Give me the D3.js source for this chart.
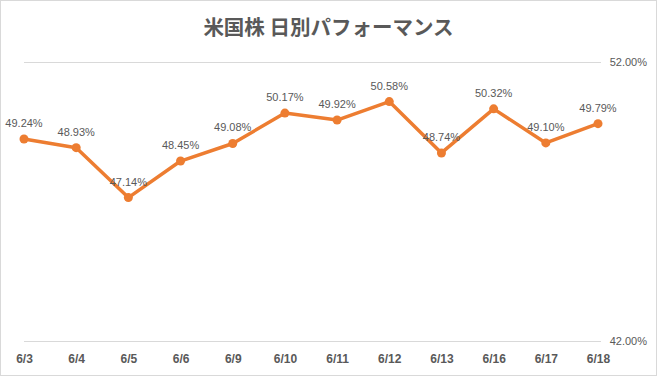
<!DOCTYPE html>
<html>
<head>
<meta charset="utf-8">
<script src="https://cdn.jsdelivr.net/npm/d3@7"></script>
<style>
  html, body { margin: 0; padding: 0; background: #fff; }
  #chart { width: 657px; height: 376px; }
</style>
</head>
<body>
<div id="chart"></div>
<script>
// daily performance values (%)
const dates = ["6/3", "6/4", "6/5", "6/6", "6/9", "6/10", "6/11", "6/12", "6/13", "6/16", "6/17", "6/18"];
const values = [49.24, 48.93, 47.14, 48.45, 49.08, 50.17, 49.92, 50.58, 48.74, 50.32, 49.10, 49.79];
const yTicks = [42, 52];

const W = 657, H = 376;
const lineColor = "#ED7D31";
const textColor = "#595959";
const font = "'Liberation Sans', Arial, sans-serif";

const svg = d3.select("#chart").append("svg")
    .attr("width", W)
    .attr("height", H);

// outer border
svg.append("rect")
    .attr("x", 0.5).attr("y", 0.5)
    .attr("width", W - 1).attr("height", H - 1)
    .attr("fill", "#fff")
    .attr("stroke", "#d9d9d9");

// title
svg.append("text")
    .attr("x", W / 2)
    .attr("y", 35)
    .attr("text-anchor", "middle")
    .style("font-family", "'Noto Sans CJK JP', sans-serif")
    .style("font-size", "20.5px")
    .style("font-weight", "bold")
    .style("fill", textColor)
    .text("米国株 日別パフォーマンス");

// scales
const x = d3.scalePoint().domain(dates).range([24, 598]);
const y = d3.scaleLinear().domain([42, 52]).range([341, 62]);

// gridlines + right-side labels
const grid = svg.append("g");
yTicks.forEach(t => {
    grid.append("line")
        .attr("x1", 24).attr("x2", 601)
        .attr("y1", y(t) + 0.5).attr("y2", y(t) + 0.5)
        .attr("stroke", "#d9d9d9")
        .attr("stroke-width", 1);
    grid.append("text")
        .attr("x", 647)
        .attr("y", y(t) + 4)
        .attr("text-anchor", "end")
        .style("font-family", font)
        .style("font-size", "11px")
        .style("fill", textColor)
        .text(t.toFixed(2) + "%");
});

// x axis labels
const xAxis = svg.append("g")
    .attr("transform", "translate(0,354)")
    .call(d3.axisBottom(x).tickSize(0).tickPadding(0));
xAxis.select(".domain").remove();
xAxis.selectAll("text")
    .attr("dy", "0.71em")
    .style("font-family", font)
    .style("font-size", "12px")
    .style("font-weight", "bold")
    .style("fill", textColor);

// line
const data = dates.map((d, i) => ({ date: d, value: values[i] }));
svg.append("path")
    .datum(data)
    .attr("fill", "none")
    .attr("stroke", lineColor)
    .attr("stroke-width", 3.5)
    .attr("stroke-linejoin", "round")
    .attr("d", d3.line().x(d => x(d.date)).y(d => y(d.value)));

// markers
svg.selectAll(".dot")
    .data(data)
    .join("circle")
    .attr("class", "dot")
    .attr("cx", d => x(d.date))
    .attr("cy", d => y(d.value))
    .attr("r", 4.5)
    .attr("fill", lineColor);

// data labels
svg.selectAll(".lbl")
    .data(data)
    .join("text")
    .attr("class", "lbl")
    .attr("x", d => x(d.date))
    .attr("y", d => y(d.value) - 12)
    .attr("text-anchor", "middle")
    .style("font-family", font)
    .style("font-size", "11px")
    .style("fill", textColor)
    .text(d => d.value.toFixed(2) + "%");
</script>
</body>
</html>
